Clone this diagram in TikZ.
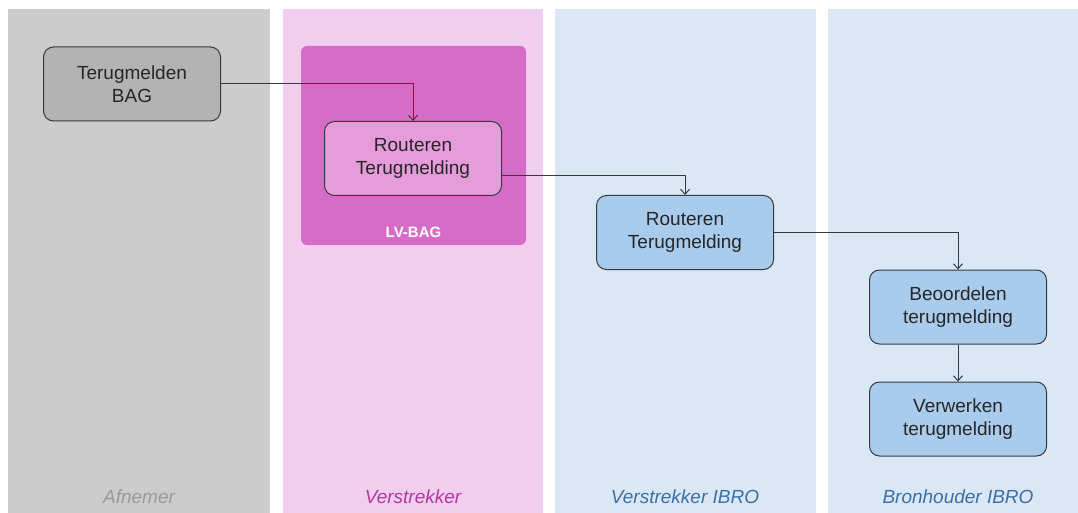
\documentclass[tikz,border=0pt]{standalone}
\usepackage{fontspec}
\setmainfont{Liberation Sans}
\usetikzlibrary{arrows.meta}

\definecolor{lanegray}{HTML}{CCCCCC}
\definecolor{lanepink}{HTML}{F2CEEE}
\definecolor{laneblue}{HTML}{DAE8F5}
\definecolor{boxgray}{HTML}{B3B3B3}
\definecolor{boxpink}{HTML}{E69CDB}
\definecolor{boxblue}{HTML}{A9CBEC}
\definecolor{grouppink}{HTML}{D56CC7}
\definecolor{edgeline}{HTML}{36393D}
\definecolor{labgray}{HTML}{9A9A9A}
\definecolor{labpink}{HTML}{B0389E}
\definecolor{labblue}{HTML}{3B6FA6}

\tikzset{
  lane/.style={draw=none},
  lanelabel/.style={font=\fontsize{19}{23}\selectfont\itshape, anchor=center},
  task/.style={draw=edgeline, line width=1pt, rounded corners=10pt,
    minimum width=177pt, minimum height=74pt, align=center,
    text=black!85, font=\fontsize{19}{23}\selectfont, inner sep=0pt},
  flow/.style={draw=edgeline, line width=1pt,
    -{Straight Barb[length=5pt,width=9pt,line width=1pt]}},
}

\begin{document}
\begin{tikzpicture}[x=1pt,y=-1pt]
  \useasboundingbox (0,0) rectangle (1078,513);
  \fill[white] (0,0) rectangle (1078,513);

  % swimlanes
  \fill[lanegray] (8,9) rectangle (270,520);
  \fill[lanepink] (283,9) rectangle (543,520);
  \fill[laneblue] (555,9) rectangle (816,520);
  \fill[laneblue] (828,9) rectangle (1090,520);

  \node[lanelabel, text=labgray] (lab1) at (139,497) {Afnemer};
  \node[lanelabel, text=labpink] (lab2) at (413,497) {Verstrekker};
  \node[lanelabel, text=labblue] (lab3) at (685,497) {Verstrekker IBRO};
  \node[lanelabel, text=labblue] (lab4) at (958,497) {Bronhouder IBRO};

  % LV-BAG group
  \fill[grouppink, rounded corners=6pt] (301,46) rectangle (526,245);
  \node[text=white, font=\fontsize{15}{18}\selectfont\bfseries] (lvbag) at (413.5,232) {LV-BAG};

  % tasks
  \node[task, fill=boxgray] (terug) at (132,84) {Terugmelden\\BAG};
  \node[task, fill=boxpink] (route1) at (413,158.5) {Routeren\\Terugmelding};
  \node[task, fill=boxblue] (route2) at (685,232.5) {Routeren\\Terugmelding};
  \node[task, fill=boxblue] (beoord) at (958,307) {Beoordelen\\terugmelding};
  \node[task, fill=boxblue] (verwerk) at (958,419) {Verwerken\\terugmelding};

  % flows
  \draw[flow] (terug.east) -| (route1.north);
  \draw[flow] ([yshift=-17.5pt]route1.east) -| (route2.north);
  \draw[flow] (route2.east) -| (beoord.north);
  \draw[flow] (beoord.south) -- (verwerk.north);
\end{tikzpicture}
\end{document}
